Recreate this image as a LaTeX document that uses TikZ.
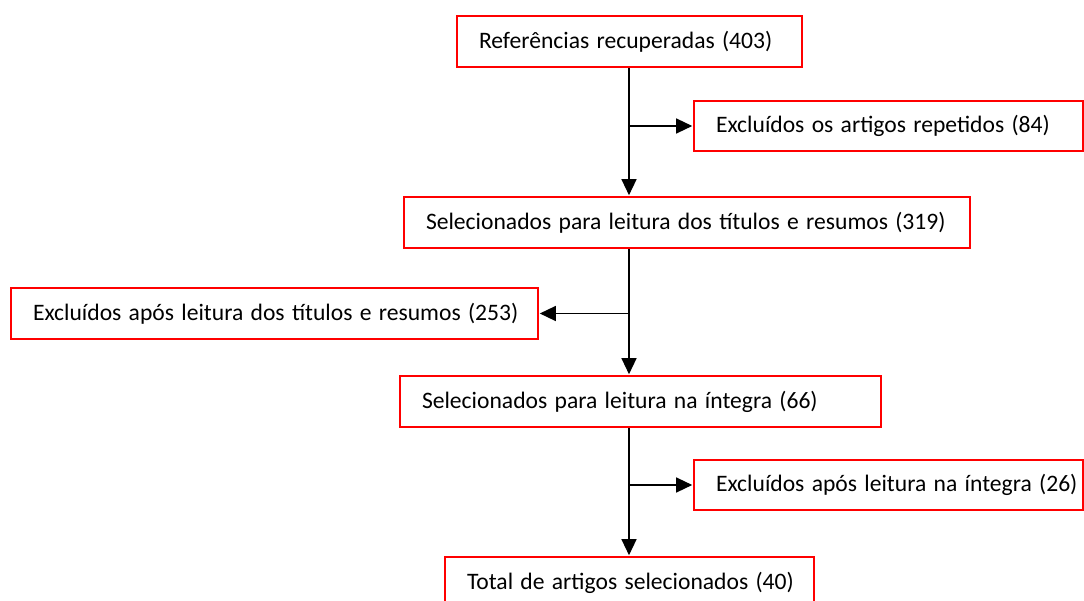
\documentclass[tikz,border=0pt]{standalone}
\usepackage{fontspec}
\setmainfont{Carlito}
\usetikzlibrary{arrows.meta}
\newcommand\btxt[1]{\mbox{\spaceskip=0.31em\relax #1}}
\begin{document}
\begin{tikzpicture}[x=1pt,y=-1pt,
  box/.style={draw=red, line width=1.8pt, fill=white, inner xsep=22pt, inner ysep=0pt,
    align=left, font=\fontsize{23.6}{28}\selectfont, anchor=center},
  conn/.style={line width=1.3pt, shorten >=0.9pt, -{Triangle[length=16pt,width=15pt]}}]
\useasboundingbox (0,0) rectangle (1084,601);
\coordinate (sp) at (629,0);
\node[box, text width=301pt, minimum height=51pt] (b1) at (629.5,41.5) {\btxt{Referências recuperadas (403)}};
\node[box, text width=345pt, minimum height=50pt] (b2) at (888.5,126) {\btxt{Excluídos os artigos repetidos (84)}};
\node[box, text width=522pt, minimum height=51pt] (b3) at (687,222.5) {\btxt{Selecionados para leitura dos títulos e resumos (319)}};
\node[box, text width=483pt, minimum height=51pt] (b4) at (274.5,313.5) {\btxt{Excluídos após leitura dos títulos e resumos (253)}};
\node[box, text width=437pt, minimum height=51pt] (b5) at (640.5,401.5) {\btxt{Selecionados para leitura na íntegra (66)}};
\node[box, text width=345pt, minimum height=50pt] (b6) at (888.5,485) {\btxt{Excluídos após leitura na íntegra (26)}};
\node[box, text width=325pt, minimum height=51pt] (b7) at (629.5,582.5) {\btxt{Total de artigos selecionados (40)}};
\draw[conn] (b1.south -| sp) -- (b3.north -| sp);
\draw[conn] (b2.west -| sp) -- (b2.west);
\draw[conn] (b3.south -| sp) -- (b5.north -| sp);
\draw[conn] (b4.east -| sp) -- (b4.east);
\draw[conn] (b5.south -| sp) -- (b7.north -| sp);
\draw[conn] (b6.west -| sp) -- (b6.west);
\end{tikzpicture}
\end{document}
